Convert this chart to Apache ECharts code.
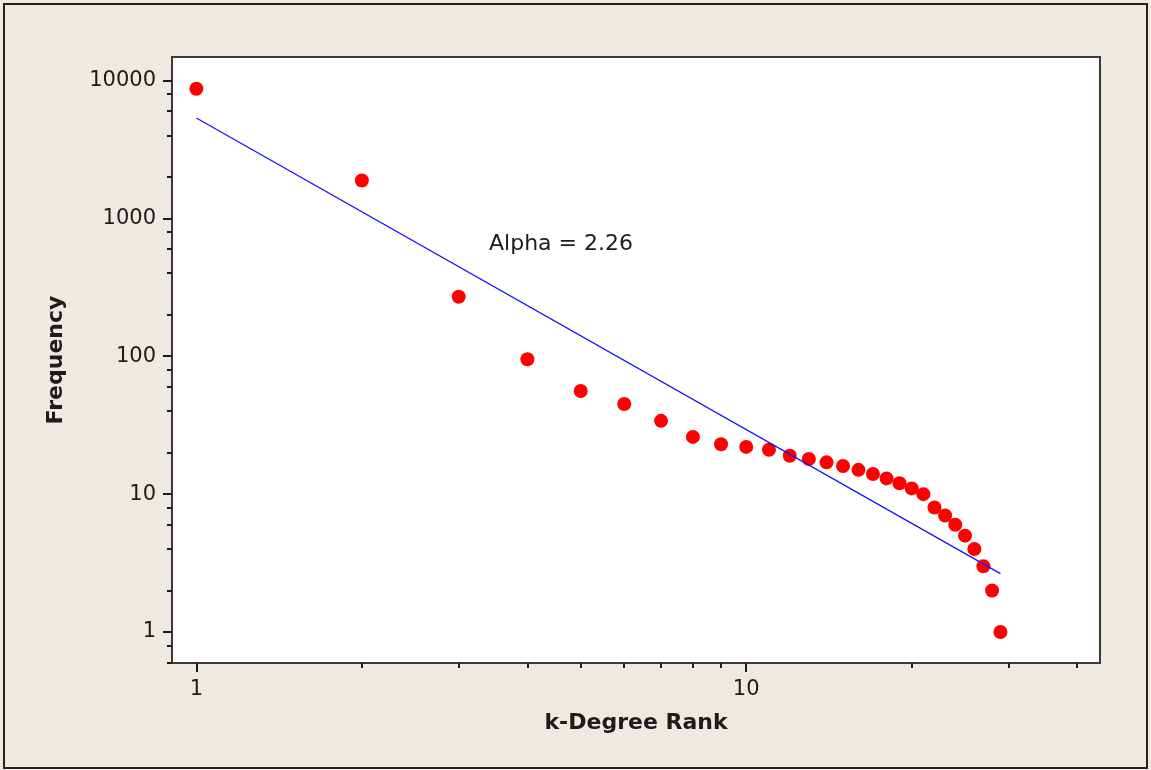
<!DOCTYPE html>
<html>
<head>
<meta charset="utf-8">
<title>k-Degree Rank vs Frequency</title>
<script src="https://cdn.jsdelivr.net/npm/echarts@6/dist/echarts.min.js"></script>
<style>
  html, body { margin: 0; padding: 0; background: #eeeae1; }
  #chart { width: 1151px; height: 770px; }
</style>
</head>
<body>
<div id="chart"></div>
<script>
// Rank of each degree value and how often it occurs
const ranks = [1, 2, 3, 4, 5, 6, 7, 8, 9, 10, 11, 12, 13, 14, 15, 16, 17, 18, 19, 20, 21, 22, 23, 24, 25, 26, 27, 28, 29];
const frequencies = [8700, 1880, 270, 95, 56, 45, 34, 26, 23, 22, 21, 19, 18, 17, 16, 15, 14, 13, 12, 11, 10, 8, 7, 6, 5, 4, 3, 2, 1];

// Power-law fit: frequency = fitIntercept * rank^(-alpha)
const alpha = 2.26;
const fitIntercept = 5350;
const fitRanks = [1, 29];

// Tick positions
const xMajorTicks = [1, 10];
const xMinorTicks = [0.9, 2, 3, 4, 5, 6, 7, 8, 9, 20, 30, 40];
const yMajorTicks = [1, 10, 100, 1000, 10000];
const yMinorTicks = [0.6, 0.8, 2, 4, 6, 8, 20, 40, 60, 80, 200, 400, 600, 800, 2000, 4000, 6000, 8000];

const FONT = 'DejaVu Sans';
const INK = '#1c1c1c';
const X_RANGE = [0.903, 44];
const Y_RANGE = [0.596, 14800];

const scatterData = ranks.map((r, i) => [r, frequencies[i]]);
const fitData = fitRanks.map(r => [r, fitIntercept * Math.pow(r, -alpha)]);

function logAxis(range, ticks, tickLen, labels, extra) {
  return Object.assign({
    type: 'log',
    logBase: 10,
    gridIndex: 0,
    min: range[0],
    max: range[1],
    splitLine: { show: false },
    minorTick: { show: false },
    minorSplitLine: { show: false },
    axisLine: { show: false, onZero: false },
    axisTick: {
      show: true,
      inside: false,
      length: tickLen,
      customValues: ticks,
      lineStyle: { color: INK, width: 2 }
    },
    axisLabel: labels
      ? {
          show: true,
          customValues: ticks,
          formatter: v => String(Math.round(v)),
          fontFamily: FONT,
          fontSize: 21,
          color: INK,
          margin: 16
        }
      : { show: false }
  }, extra || {});
}

const chart = echarts.init(document.getElementById('chart'), null, { renderer: 'canvas' });

chart.setOption({
  backgroundColor: '#eeeae1',
  animation: false,
  grid: {
    left: 172,
    top: 57,
    right: 51,
    bottom: 107,
    show: true,
    backgroundColor: '#ffffff',
    borderColor: '#3a3a3a',
    borderWidth: 2
  },
  xAxis: [
    logAxis(X_RANGE, xMajorTicks, 9, true, {
      position: 'bottom',
      name: 'k-Degree Rank',
      nameLocation: 'middle',
      nameGap: 49,
      nameTextStyle: { fontFamily: FONT, fontSize: 22, fontWeight: 'bold', color: INK }
    }),
    logAxis(X_RANGE, xMinorTicks, 5, false, { position: 'bottom' })
  ],
  yAxis: [
    logAxis(Y_RANGE, yMajorTicks, 9, true, {
      position: 'left',
      name: 'Frequency',
      nameLocation: 'middle',
      nameGap: 105,
      nameTextStyle: { fontFamily: FONT, fontSize: 22, fontWeight: 'bold', color: INK }
    }),
    logAxis(Y_RANGE, yMinorTicks, 5, false, { position: 'left' })
  ],
  series: [
    {
      type: 'line',
      xAxisIndex: 0,
      yAxisIndex: 0,
      data: fitData,
      symbol: 'none',
      lineStyle: { color: '#1010ff', width: 1.2 },
      silent: true
    },
    {
      type: 'scatter',
      xAxisIndex: 0,
      yAxisIndex: 0,
      data: scatterData,
      symbol: 'circle',
      symbolSize: 14,
      itemStyle: { color: '#ff0000', opacity: 1 }
    }
  ],
  graphic: [
    {
      type: 'rect',
      silent: true,
      shape: { x: 4, y: 4, width: 1143, height: 764 },
      style: { fill: 'none', stroke: '#222222', lineWidth: 2 }
    },
    {
      type: 'text',
      left: 489,
      top: 233,
      silent: true,
      style: {
        text: 'Alpha = ' + alpha.toFixed(2),
        fontFamily: FONT,
        fontSize: 22,
        fill: INK
      }
    }
  ]
});
</script>
</body>
</html>
